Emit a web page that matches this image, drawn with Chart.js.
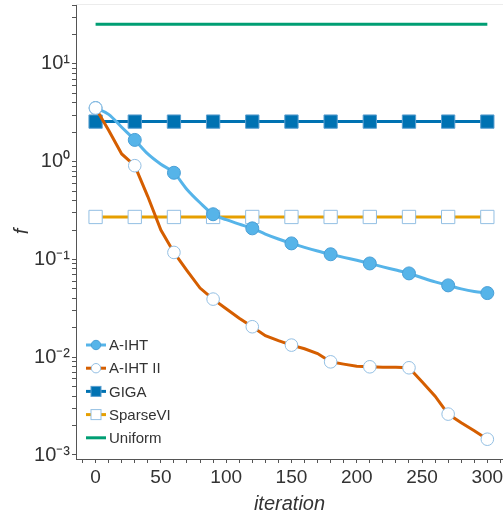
<!DOCTYPE html>
<html lang="en">
<head>
<meta charset="UTF-8">
<title>f vs iteration</title>
<style>
  *{box-sizing:border-box;margin:0;padding:0}
  body{background:#fff;overflow:hidden}
  #wrap{position:relative;width:503px;height:518px;overflow:hidden}
  #chart{position:absolute;left:0;top:-16px}
</style>
</head>
<body>
<div id="wrap"><canvas id="chart" width="523" height="534"></canvas></div>

<script src="https://cdn.jsdelivr.net/npm/chart.js@4.4.0"></script>
<script>
/* data */
const iterations = [0,10,20,30,40,50,60,70,80,90,100,110,120,130,140,150,160,170,180,190,200,210,220,230,240,250,260,270,280,290,300];
const aiht  = [3.54,3.05,2.25,1.67,1.2,0.94,0.77,0.52,0.38,0.29,0.255,0.23,0.208,0.182,0.162,0.146,0.133,0.122,0.113,0.105,0.098,0.091,0.084,0.078,0.072,0.065,0.059,0.0543,0.050,0.047,0.0453];
const aiht2 = [3.54,2.1,1.2,0.91,0.44,0.2,0.118,0.077,0.051,0.0393,0.0313,0.0251,0.0205,0.0166,0.0148,0.0133,0.0122,0.0109,0.00897,0.0085,0.0081,0.00798,0.0079,0.0079,0.0078,0.0056,0.0040,0.00262,0.00214,0.00177,0.00145];
const giga     = iterations.map(() => 2.57);
const sparsevi = iterations.map(() => 0.272);
const uniform  = iterations.map(() => 25.5);

const seriesNames = ['A-IHT','A-IHT II','GIGA','SparseVI','Uniform'];
const yTickValues = [0.001,0.01,0.1,1,10];
const yTickLabels = ['10\u207B\u00B3','10\u207B\u00B2','10\u207B\u00B9','10\u2070','10\u00B9'];
const xTickLabels = [0,50,100,150,200,250,300];

/* markers every 3rd point (every 30 iterations) */
const every30 = r => iterations.map((_, i) => i % 3 === 0 ? r : 0);

const C = {aiht:'#56B4E9', aiht2:'#D55E00', giga:'#0072B2', svi:'#E69F00', uni:'#009E73', edge:'#93bfe3'};

/* minor ticks on log axis */
const yMinor = [];
for (let e = -3; e <= 1; e++) for (let m = 1; m <= 9; m++) {
  const v = +(m * Math.pow(10, e)).toPrecision(3);
  if (v <= 41) yMinor.push(v);
}
const xMinor = [];
for (let v = -10; v <= 310; v += 10) xMinor.push(v);

const legendInside = {
  id: 'legendInside',
  afterDatasetsDraw(chart) {
    const ctx = chart.ctx, a = chart.chartArea;
    const x0 = a.left + 10, y0 = a.bottom - 114, step = 23.2;
    ctx.save();
    chart.data.datasets.forEach((ds, i) => {
      const y = y0 + i * step;
      ctx.strokeStyle = ds.borderColor; ctx.lineWidth = 3;
      ctx.beginPath(); ctx.moveTo(x0, y); ctx.lineTo(x0 + 20, y); ctx.stroke();
      const cx = x0 + 10;
      ctx.lineWidth = 1;
      if (ds.legendMarker === 'circle') {
        ctx.beginPath(); ctx.arc(cx, y, 4.7, 0, Math.PI * 2);
        ctx.fillStyle = ds.pointBackgroundColor; ctx.fill();
        ctx.strokeStyle = ds.pointBorderColor; ctx.stroke();
      } else if (ds.legendMarker === 'rect') {
        ctx.fillStyle = ds.pointBackgroundColor; ctx.fillRect(cx - 5, y - 5, 10, 10);
        ctx.strokeStyle = ds.pointBorderColor; ctx.strokeRect(cx - 5, y - 5, 10, 10);
      }
      ctx.fillStyle = '#333';
      ctx.font = '15px "Liberation Sans", Arial, sans-serif';
      ctx.textBaseline = 'middle'; ctx.textAlign = 'left';
      ctx.fillText(ds.label, x0 + 23, y + 1);
    });
    // faint frame line on top
    ctx.strokeStyle = '#ececec'; ctx.lineWidth = 1;
    ctx.beginPath(); ctx.moveTo(a.left, a.top + 0.5); ctx.lineTo(a.right, a.top + 0.5); ctx.stroke();
    ctx.restore();
  }
};

const font = '"Liberation Sans", Arial, sans-serif';

new Chart(document.getElementById('chart'), {
  type: 'line',
  data: {
    labels: iterations,
    datasets: [
      {label: seriesNames[0], data: aiht, borderColor: C.aiht, borderWidth: 3, cubicInterpolationMode: 'monotone',
       pointRadius: every30(6.5), pointBackgroundColor: C.aiht, pointBorderColor: '#4a9fd6', pointBorderWidth: 1,
       legendMarker: 'circle', order: 1},
      {label: seriesNames[1], data: aiht2, borderColor: C.aiht2, borderWidth: 3, tension: 0,
       pointRadius: every30(6.3), pointBackgroundColor: '#fff', pointBorderColor: C.edge, pointBorderWidth: 1,
       legendMarker: 'circle', order: 0},
      {label: seriesNames[2], data: giga, borderColor: C.giga, borderWidth: 3,
       pointStyle: 'rect', pointRadius: every30(9.4), pointBackgroundColor: C.giga, pointBorderColor: '#5a9fd0', pointBorderWidth: 1,
       legendMarker: 'rect', order: 2},
      {label: seriesNames[3], data: sparsevi, borderColor: C.svi, borderWidth: 3,
       pointStyle: 'rect', pointRadius: every30(9.4), pointBackgroundColor: '#fff', pointBorderColor: C.edge, pointBorderWidth: 1,
       legendMarker: 'rect', order: 3},
      {label: seriesNames[4], data: uniform, borderColor: C.uni, borderWidth: 3, pointRadius: 0,
       legendMarker: 'none', order: 4}
    ]
  },
  options: {
    responsive: false,
    animation: false,
    layout: {padding: {top: 20, left: 0, right: 20, bottom: 0}},
    plugins: {legend: {display: false}, tooltip: {enabled: false}},
    elements: {point: {hoverRadius: 0}},
    scales: {
      x: {
        type: 'linear', min: -15, max: 312,
        afterBuildTicks: s => { s.ticks = xMinor.map(v => ({value: v})); },
        afterFit: s => { s.height = 59; },
        grid: {drawOnChartArea: false, tickLength: 4, tickColor: '#555'},
        border: {color: '#555', width: 1},
        ticks: {
          autoSkip: false, maxRotation: 0, padding: 3, color: '#333',
          font: {family: font, size: 19},
          callback: v => xTickLabels.includes(v) ? String(v) : ''
        },
        title: {display: true, text: 'iteration', color: '#333', padding: {top: 0, bottom: 2},
                font: {family: font, size: 20, style: 'italic'}}
      },
      y: {
        type: 'logarithmic', min: 0.00091, max: 41,
        afterBuildTicks: s => { s.ticks = yMinor.map(v => ({value: v})); },
        afterFit: s => { s.width = 76; },
        grid: {drawOnChartArea: false, tickLength: 4, tickColor: '#555'},
        border: {color: '#555', width: 1},
        ticks: {
          autoSkip: false, padding: 2, color: '#333',
          font: {family: font, size: 20},
          callback: v => {
            const k = yTickValues.findIndex(t => Math.abs(t - v) / t < 1e-6);
            return k >= 0 ? yTickLabels[k] : '';
          }
        },
        title: {display: true, text: 'f', color: '#333', padding: {top: 10, bottom: 0},
                font: {family: font, size: 20, style: 'italic'}}
      }
    }
  },
  plugins: [legendInside]
});
</script>
</body>
</html>
